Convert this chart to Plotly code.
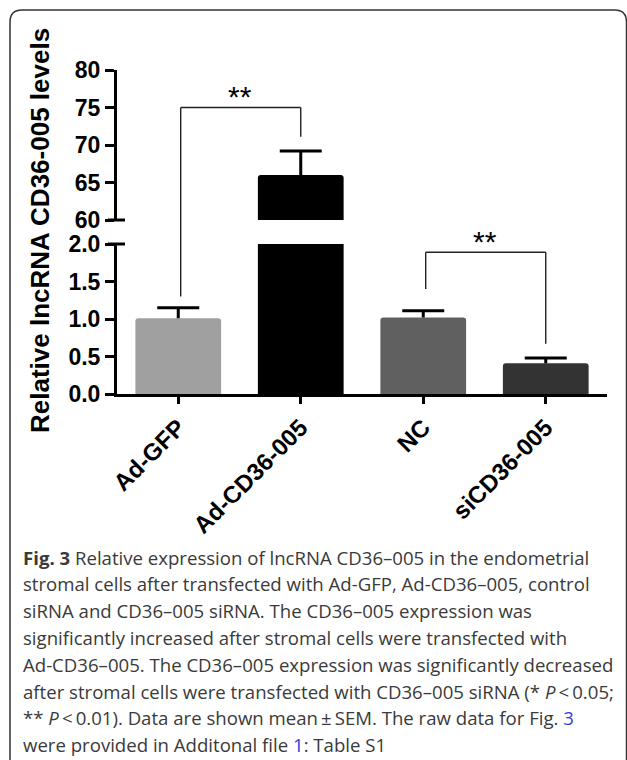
import plotly.graph_objects as go

# ---------------- data ----------------
categories = ["Ad-GFP", "Ad-CD36-005", "NC", "siCD36-005"]
means = [1.01, 66.0, 1.02, 0.41]
sems = [0.14, 3.2, 0.09, 0.07]
bar_colors = ["#a0a0a0", "#000000", "#606060", "#333333"]

lower_range = [0, 2]
upper_range = [60, 80]
lower_ticks = [0.0, 0.5, 1.0, 1.5, 2.0]
upper_ticks = [60, 65, 70, 75, 80]

y_title = "Relative lncRNA CD36-005 levels"

# significance brackets: (category index left, right), leg bottoms and top as (axis, value)
sig_pairs = [(0, 1), (2, 3)]
sig_labels = ["**", "**"]
sig_left_bottom = [("lower", 1.30), ("lower", 1.40)]
sig_top = [("upper", 75.0), ("lower", 1.89)]
sig_right_bottom = [("upper", 71.1), ("lower", 0.67)]

caption_lines = [
    "<b>Fig. 3</b> Relative expression of lncRNA CD36–005 in the endometrial",
    "stromal cells after transfected with Ad-GFP, Ad-CD36–005, control",
    "siRNA and CD36–005 siRNA. The CD36–005 expression was",
    "significantly increased after stromal cells were transfected with",
    "Ad-CD36–005. The CD36–005 expression was significantly decreased",
    "after stromal cells were transfected with CD36–005 siRNA (* <i>P</i>&#8201;&lt;&#8201;0.05;",
    "** <i>P</i>&#8201;&lt;&#8201;0.01). Data are shown mean&#8201;±&#8201;SEM. The raw data for Fig. <span style='color:#2f3fe0'>3</span>",
    "were provided in Additonal file <span style='color:#2f3fe0'>1</span>: Table S1",
]

# ---------------- layout geometry (pixels) ----------------
W, H = 627, 760
ML, MR, MT, MB = 117, 20, 70, 366
PW = W - ML - MR
PH = H - MT - MB
GAP_PX = 24  # gap between the two y-axis panels
LOWER_PX = 150
lower_top = LOWER_PX / PH
upper_bottom = (LOWER_PX + GAP_PX) / PH


def pxx(x):
    return (x - ML) / PW


def pxy(y):
    return (H - MB - y) / PH


def val2paper(axis, v):
    if axis == "lower":
        return lower_top * (v - lower_range[0]) / (lower_range[1] - lower_range[0])
    return upper_bottom + (1 - upper_bottom) * (v - upper_range[0]) / (upper_range[1] - upper_range[0])


FONT = "Arial, Liberation Sans, sans-serif"

fig = go.Figure()

# bars on both panels
for ax in ["y", "y2"]:
    fig.add_trace(go.Bar(
        x=categories, y=means, marker=dict(color=bar_colors, line=dict(width=0)),
        yaxis=ax, xaxis="x", hoverinfo="skip", showlegend=False,
    ))

# error bars (upward only): cap marker + stem
lower_idx = [i for i in range(len(means)) if means[i] + sems[i] <= lower_range[1]]
upper_idx = [i for i in range(len(means)) if means[i] > upper_range[0]]
for ax, idx in [("y", lower_idx), ("y2", upper_idx)]:
    fig.add_trace(go.Scatter(
        x=[categories[i] for i in idx],
        y=[means[i] + sems[i] for i in idx],
        mode="markers", yaxis=ax, xaxis="x",
        marker=dict(symbol="line-ew", size=30, color="black", line=dict(width=3, color="black")),
        error_y=dict(type="data", symmetric=False, array=[0] * len(idx),
                     arrayminus=[sems[i] for i in idx], width=0, thickness=3, color="black"),
        hoverinfo="skip", showlegend=False, cliponaxis=False,
    ))

axis_common = dict(
    showline=True, linewidth=3, linecolor="black", ticks="outside", ticklen=9,
    tickwidth=3, tickcolor="black", showgrid=False, zeroline=False,
    tickfont=dict(family=FONT, size=23, color="black", weight="bold"),
)

fig.update_layout(
    width=W, height=H,
    margin=dict(l=ML, r=MR, t=MT, b=MB, pad=0),
    paper_bgcolor="white", plot_bgcolor="white",
    showlegend=False, bargap=0.3, barcornerradius=3, barmode="group",
    xaxis=dict(type="category", categoryorder="array", categoryarray=categories,
               range=[-0.5, len(categories) - 0.5], anchor="y",
               showline=True, linewidth=3, linecolor="black", ticks="outside", ticklen=7,
               tickwidth=3, tickcolor="black", showgrid=False, zeroline=False, tickangle=-45,
               tickfont=dict(family=FONT, size=24, color="black", weight="bold")),
    yaxis=dict(domain=[0, lower_top], range=lower_range, tickvals=lower_ticks,
               tickformat=".1f", anchor="x", **axis_common),
    yaxis2=dict(domain=[upper_bottom, 1], range=upper_range, tickvals=upper_ticks,
                anchor="x", **axis_common),
)

shapes = []
# axis break marks
for yv in [val2paper("upper", upper_range[0]), val2paper("lower", lower_range[1])]:
    shapes.append(dict(type="line", xref="paper", yref="paper", x0=pxx(ML - 9), x1=pxx(ML + 8),
                       y0=yv, y1=yv, line=dict(color="black", width=3)))

annotations = []
# significance brackets
for (i0, i1), lab, lb, tp, rb in zip(sig_pairs, sig_labels, sig_left_bottom, sig_top, sig_right_bottom):
    ytop = val2paper(*tp)
    path_pts = [(i0 + 0.02, val2paper(*lb)), (i0 + 0.02, ytop), (i1, ytop), (i1, val2paper(*rb))]
    for (xa, ya), (xb, yb) in zip(path_pts[:-1], path_pts[1:]):
        shapes.append(dict(type="line", xref="x", yref="paper", x0=xa, x1=xb, y0=ya, y1=yb,
                           line=dict(color="#222222", width=1.4)))
    annotations.append(dict(x=(i0 + i1) / 2, y=ytop + 11 / PH, xref="x", yref="paper",
                            text=lab, showarrow=False, xanchor="center", yanchor="middle",
                            font=dict(family=FONT, size=30, color="black")))

# y-axis title
annotations.append(dict(x=pxx(40), y=pxy(231), xref="paper", yref="paper", text=y_title,
                        textangle=-90, showarrow=False, xanchor="center", yanchor="middle",
                        font=dict(family=FONT, size=26, color="black", weight="bold")))

# caption
for k, line in enumerate(caption_lines):
    annotations.append(dict(x=pxx(21), y=pxy(557 + 26.8 * k), xref="paper", yref="paper",
                            text=line, showarrow=False, xanchor="left", yanchor="middle",
                            align="left",
                            font=dict(family="Open Sans, sans-serif", size=18.6, color="#3a3a3a")))

# outer rounded border
L, T, R, B, r = 10, 10, 626.5, 775, 12


def P(x, y):
    return f"{pxx(x):.5f},{pxy(y):.5f}"


path = (f"M{P(L, B)} L{P(L, T + r)} Q{P(L, T)} {P(L + r, T)} L{P(R - r, T)} "
        f"Q{P(R, T)} {P(R, T + r)} L{P(R, B)}")
shapes.append(dict(type="path", xref="paper", yref="paper", path=path,
                   line=dict(color="#333333", width=1.5)))

fig.update_layout(shapes=shapes, annotations=annotations)
fig.write_html("out.html")
